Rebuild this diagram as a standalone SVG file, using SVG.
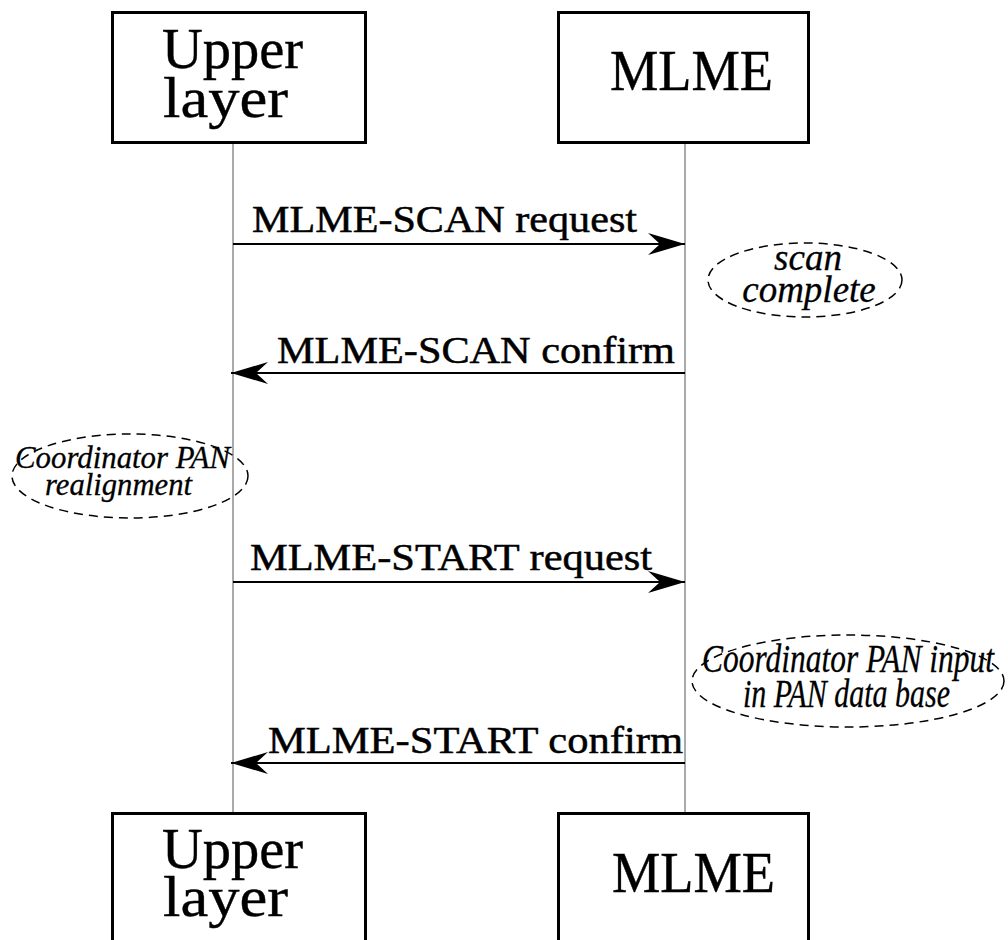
<svg xmlns="http://www.w3.org/2000/svg" width="1008" height="940" viewBox="0 0 1008 940">
  <style>
    .box { fill: #fff; stroke: #000; stroke-width: 3; }
    .life { stroke: #555; stroke-width: 1; fill: none; }
    .msg { stroke: #000; stroke-width: 2; fill: none; }
    .note { fill: none; stroke: #000; stroke-width: 1.5; stroke-dasharray: 9 6; }
    .big { font-family: "Liberation Serif", "Times New Roman", serif; font-size: 56px; fill: #000; stroke: #000; stroke-width: 0.4; }
    .lbl { font-family: "Liberation Serif", "Times New Roman", serif; font-size: 38px; fill: #000; stroke: #000; stroke-width: 0.5; }
    .it { font-family: "Liberation Serif", "Times New Roman", serif; font-style: italic; fill: #000; stroke: #000; stroke-width: 0.3; }
  </style>
  <defs>
    <marker id="head" markerUnits="userSpaceOnUse" viewBox="-38 -12 40 24" markerWidth="40" markerHeight="24" refX="0" refY="0" orient="auto">
      <path d="M0,0 L-37,-11 L-25,0 L-37,11 Z" fill="#000"/>
    </marker>
  </defs>
  <rect width="1008" height="940" fill="#fff"/>

  <!-- lifelines -->
  <g id="lifelines">
    <line class="life" x1="233" y1="143" x2="233" y2="813"/>
    <line class="life" x1="685" y1="143" x2="685" y2="813"/>
  </g>

  <!-- participants, top -->
  <g id="upper-top">
    <rect class="box" x="112.5" y="12.5" width="253" height="130"/>
    <text class="big" x="162" y="68" textLength="141" lengthAdjust="spacingAndGlyphs">Upper</text>
    <text class="big" x="163" y="117" textLength="125" lengthAdjust="spacingAndGlyphs">layer</text>
  </g>
  <g id="mlme-top">
    <rect class="box" x="558.5" y="12.5" width="250" height="130"/>
    <text class="big" x="610" y="90" textLength="163" lengthAdjust="spacingAndGlyphs">MLME</text>
  </g>

  <!-- participants, bottom -->
  <g id="upper-bottom">
    <rect class="box" x="112.5" y="813.5" width="253" height="140"/>
    <text class="big" x="162" y="868" textLength="141" lengthAdjust="spacingAndGlyphs">Upper</text>
    <text class="big" x="163" y="916" textLength="125" lengthAdjust="spacingAndGlyphs">layer</text>
  </g>
  <g id="mlme-bottom">
    <rect class="box" x="558.5" y="813.5" width="250" height="140"/>
    <text class="big" x="612" y="892" textLength="163" lengthAdjust="spacingAndGlyphs">MLME</text>
  </g>

  <!-- messages -->
  <g id="connectors">
    <line class="msg" x1="233" y1="244" x2="685" y2="244" marker-end="url(#head)"/>
    <line class="msg" x1="685" y1="373" x2="231" y2="373" marker-end="url(#head)"/>
    <line class="msg" x1="233" y1="582" x2="685" y2="582" marker-end="url(#head)"/>
    <line class="msg" x1="685" y1="763" x2="231" y2="763" marker-end="url(#head)"/>
  </g>
  <g id="labels">
    <text class="lbl" x="252" y="232" textLength="385" lengthAdjust="spacingAndGlyphs">MLME-SCAN request</text>
    <text class="lbl" x="277" y="363" textLength="398" lengthAdjust="spacingAndGlyphs">MLME-SCAN confirm</text>
    <text class="lbl" x="250" y="570" textLength="402" lengthAdjust="spacingAndGlyphs">MLME-START request</text>
    <text class="lbl" x="268" y="753" textLength="415" lengthAdjust="spacingAndGlyphs">MLME-START confirm</text>
  </g>

  <!-- local actions -->
  <g id="scan-complete">
    <ellipse class="note" cx="805" cy="280" rx="97" ry="37"/>
    <text class="it" font-size="37" x="808" y="270" text-anchor="middle">scan</text>
    <text class="it" font-size="37" x="809" y="302" text-anchor="middle">complete</text>
  </g>
  <g id="pan-realignment">
    <ellipse class="note" cx="130" cy="476" rx="118" ry="42"/>
    <text class="it" font-size="31" x="15" y="468" textLength="215" lengthAdjust="spacingAndGlyphs">Coordinator PAN</text>
    <text class="it" font-size="31" x="45" y="495" textLength="147" lengthAdjust="spacingAndGlyphs">realignment</text>
  </g>
  <g id="pan-input">
    <ellipse class="note" cx="848" cy="681" rx="156" ry="46"/>
    <text class="it" font-size="41" x="702" y="672" textLength="292" lengthAdjust="spacingAndGlyphs">Coordinator PAN input</text>
    <text class="it" font-size="41" x="743" y="707" textLength="207" lengthAdjust="spacingAndGlyphs">in PAN data base</text>
  </g>
</svg>
